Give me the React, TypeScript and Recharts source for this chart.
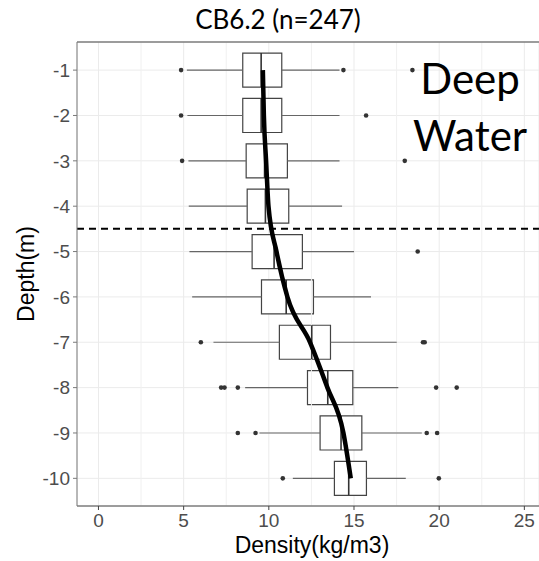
import React from 'react'
import {
    ComposedChart,
    XAxis,
    YAxis,
    CartesianGrid,
    ReferenceArea,
    ReferenceLine,
    Scatter,
    Line,
} from 'recharts'

const depths = [-1, -2, -3, -4, -5, -6, -7, -8, -9, -10]
const whiskerLow = [5.19, 5.22, 5.28, 5.3, 5.34, 5.5, 6.75, 8.61, 9.45, 11.41]
const q1 = [8.47, 8.47, 8.67, 8.73, 9.02, 9.57, 10.62, 12.27, 13.01, 13.85]
const median = [9.55, 9.55, 9.75, 9.8, 10.31, 11.02, 12.52, 13.46, 14.24, 14.69]
const q3 = [10.76, 10.76, 11.09, 11.17, 11.97, 12.62, 13.62, 14.93, 15.46, 15.73]
const whiskerHigh = [14.15, 14.15, 14.15, 14.3, 15.0, 16.0, 17.51, 17.6, 18.98, 18.04]

// outliers per depth
const outlierDepths = [-1, -1, -1, -2, -2, -3, -3, -5, -7, -7, -7, -8, -8, -8, -8, -8, -9, -9, -9, -9, -10, -10]
const outlierValues = [4.85, 14.38, 18.43, 4.85, 15.71, 4.91, 17.98, 18.74, 6.01, 19.05, 19.15, 7.2, 7.4, 8.18, 19.82, 21.03, 8.18, 9.22, 19.27, 19.88, 10.82, 19.98]

// thick trend line through the depths
const trendValues = [9.65, 9.71, 9.84, 9.98, 10.45, 11.09, 12.42, 13.44, 14.38, 14.81]

const xTicks = [0, 5, 10, 15, 20, 25]
const xMinorTicks = [2.5, 7.5, 12.5, 17.5, 22.5]
const yTicks = depths
const splitDepth = -4.5

const outliers = outlierDepths.map((y, i) => ({ x: outlierValues[i], y }))
const trend = depths.map((y, i) => ({ x: trendValues[i], y }))

const X_DOMAIN: [number, number] = [-1.26, 25.86]
const Y_DOMAIN: [number, number] = [-10.61, -0.38]
const HALF = 0.375
const tickStyle = { fill: '#4D4D4D', fontSize: 19, fontFamily: 'Liberation Sans, Arial, sans-serif' }

const Dot = (props: any) => <circle cx={props.cx} cy={props.cy} r={2.3} fill="#333" />

export default function App() {
    return (
        <div style={{ position: 'absolute', left: 0, top: 0, width: 539, height: 561, background: '#fff' }}>
            <div
                style={{
                    position: 'absolute',
                    left: 0,
                    width: 556,
                    top: 4,
                    textAlign: 'center',
                    fontFamily: 'Lato, sans-serif',
                    fontSize: 26,
                    lineHeight: '30px',
                    color: '#000',
                }}
            >
                CB6.2 (n=247)
            </div>
            <ComposedChart width={539} height={561} margin={{ top: 42, right: 0, left: 0, bottom: 0 }}>
                <CartesianGrid stroke="#EBEBEB" strokeWidth={1} />
                {xMinorTicks.map(v => (
                    <ReferenceLine key={'m' + v} x={v} stroke="#F0F0F0" strokeWidth={1} />
                ))}
                <XAxis
                    type="number"
                    dataKey="x"
                    domain={X_DOMAIN}
                    allowDataOverflow
                    ticks={xTicks}
                    interval={0}
                    tick={tickStyle}
                    tickSize={4}
                    tickMargin={4}
                    height={55}
                    axisLine={{ stroke: '#444' }}
                    tickLine={{ stroke: '#444' }}
                />
                <YAxis
                    type="number"
                    dataKey="y"
                    domain={Y_DOMAIN}
                    allowDataOverflow
                    ticks={yTicks}
                    interval={0}
                    tick={tickStyle}
                    tickSize={4}
                    tickMargin={3}
                    width={77}
                    axisLine={{ stroke: '#7a7a7a' }}
                    tickLine={{ stroke: '#7a7a7a' }}
                />
                <ReferenceLine y={Y_DOMAIN[1]} stroke="#444" strokeWidth={1.2} />
                {depths.map((d, i) => (
                    <ReferenceLine
                        key={'wl' + d}
                        segment={[{ x: whiskerLow[i], y: d }, { x: q1[i], y: d }]}
                        stroke="#666"
                        strokeWidth={1.2}
                    />
                ))}
                {depths.map((d, i) => (
                    <ReferenceLine
                        key={'wh' + d}
                        segment={[{ x: q3[i], y: d }, { x: whiskerHigh[i], y: d }]}
                        stroke="#666"
                        strokeWidth={1.2}
                    />
                ))}
                {depths.map((d, i) => (
                    <ReferenceArea
                        key={'b' + d}
                        x1={q1[i]}
                        x2={q3[i]}
                        y1={d - HALF}
                        y2={d + HALF}
                        fill="#fff"
                        fillOpacity={1}
                        stroke="#444"
                        strokeWidth={1.2}
                    />
                ))}
                {depths.map((d, i) => (
                    <ReferenceLine
                        key={'md' + d}
                        segment={[{ x: median[i], y: d - HALF }, { x: median[i], y: d + HALF }]}
                        stroke="#333"
                        strokeWidth={1.6}
                    />
                ))}
                <Scatter data={outliers} fill="#333" shape={Dot} isAnimationActive={false} legendType="none" />
                <Line
                    data={trend}
                    dataKey="y"
                    type="monotone"
                    stroke="#000"
                    strokeWidth={4.5}
                    dot={false}
                    isAnimationActive={false}
                />
                <ReferenceLine y={splitDepth} stroke="#000" strokeWidth={2} strokeDasharray="7 5" />
            </ComposedChart>
            <div
                style={{
                    position: 'absolute',
                    left: 413,
                    top: 50,
                    fontFamily: 'Lato, sans-serif',
                    fontSize: 42,
                    lineHeight: '57px',
                    color: '#000',
                    textAlign: 'center',
                }}
            >
                Deep
                <br />
                Water
            </div>
            <div
                style={{
                    position: 'absolute',
                    left: 77,
                    width: 470,
                    top: 532,
                    textAlign: 'center',
                    fontFamily: 'Liberation Sans, Arial, sans-serif',
                    fontSize: 23,
                    lineHeight: '26px',
                    color: '#000',
                }}
            >
                Density(kg/m3)
            </div>
            <div
                style={{
                    position: 'absolute',
                    left: 26,
                    top: 274,
                    transform: 'translate(-50%, -50%) rotate(-90deg)',
                    fontFamily: 'Liberation Sans, Arial, sans-serif',
                    fontSize: 23,
                    color: '#000',
                    whiteSpace: 'nowrap',
                }}
            >
                Depth(m)
            </div>
        </div>
    )
}
